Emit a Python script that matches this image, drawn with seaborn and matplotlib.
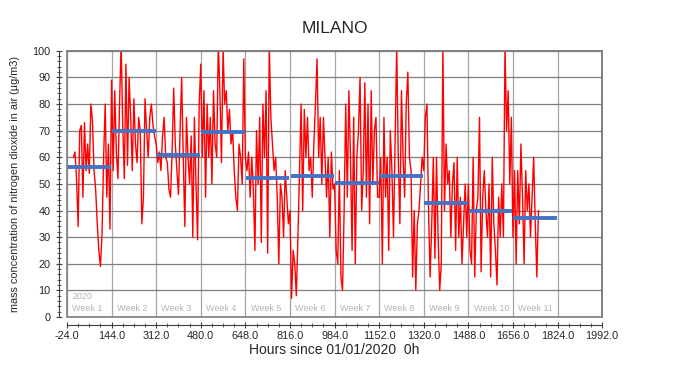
import matplotlib
matplotlib.use('Agg')
import matplotlib.pyplot as plt
import matplotlib.ticker as mticker
from matplotlib.patches import Rectangle
import numpy as np
import pandas as pd
import seaborn as sns

# NO2 readings (µg/m3), one value every 6 hours
week1 = [60, 62, 52, 34, 70, 72, 45, 73, 55, 65, 54, 80, 74, 55, 48, 35,
         25, 19, 31, 60, 80, 45, 65, 33]
week2 = [89, 55, 85, 62, 52, 80, 103, 72, 52, 95, 57, 90, 75, 55, 82, 65,
         58, 75, 70, 35, 45, 82, 70, 60, 75, 80, 72, 68]
week3 = [65, 58, 62, 55, 68, 75, 60, 58, 48, 45, 62, 86, 65, 55, 46, 70,
         90, 60, 34, 75, 60, 50, 68, 30, 75, 50, 29, 80]
week4 = [95, 60, 85, 45, 80, 60, 75, 50, 85, 65, 60, 103, 85, 58, 101, 80,
         85, 70, 78, 65, 70, 55, 45, 40, 65, 60, 50, 97]
week5 = [60, 55, 62, 45, 60, 48, 25, 70, 50, 75, 28, 80, 60, 85, 24, 102,
         75, 65, 55, 60, 45, 20, 50, 45, 30, 55, 45, 35]
week6 = [40, 7, 25, 20, 8, 30, 55, 80, 40, 78, 60, 75, 55, 60, 45, 65,
         80, 97, 60, 75, 50, 75, 60, 45, 60, 30, 62, 48]
week7 = [50, 25, 20, 55, 15, 10, 40, 80, 45, 85, 60, 25, 75, 20, 60, 70,
         90, 40, 55, 88, 45, 80, 35, 85, 50, 70, 75, 45]
week8 = [45, 60, 20, 75, 45, 60, 25, 70, 55, 30, 65, 102, 60, 35, 85, 60,
         45, 80, 92, 60, 55, 15, 40, 10, 35, 40, 50, 60]
week9 = [55, 75, 80, 40, 15, 35, 60, 22, 60, 30, 10, 20, 102, 40, 65, 50,
         55, 30, 50, 58, 25, 60, 30, 45, 20, 35, 50, 30]
week10 = [50, 25, 20, 60, 15, 40, 45, 75, 17, 45, 55, 40, 30, 50, 15, 60,
          35, 25, 12, 45, 30, 50, 30, 102, 70, 85, 50, 75]
week11 = [30, 55, 20, 55, 35, 65, 45, 20, 55, 40, 50, 30, 45, 60, 35, 15, 40]

# weekly averages (blue bars)
week_start = [-24, 144, 312, 480, 648, 816, 984, 1152, 1320, 1488, 1656]
week_mean = [56.5, 70, 61, 69.5, 52.1, 52.8, 50.5, 52.9, 43, 40, 37.2]
week_names = ['2020\nWeek 1', 'Week 2', 'Week 3', 'Week 4', 'Week 5', 'Week 6',
              'Week 7', 'Week 8', 'Week 9', 'Week 10', 'Week 11']

no2 = week1 + week2 + week3 + week4 + week5 + week6 + week7 + week8 + week9 + week10 + week11
df = pd.DataFrame({'hour': np.arange(len(no2)) * 6, 'no2': no2})

sns.set_style('white')
plt.rcParams['font.family'] = ['Liberation Sans', 'DejaVu Sans']

fig = plt.figure(figsize=(6.87, 3.88), dpi=100)
ax = fig.add_axes([0.0975, 0.183, 0.779, 0.686])

sns.lineplot(x='hour', y='no2', data=df, color='red', linewidth=1.0, ax=ax, zorder=3)

starts = np.array(week_start)
ax.hlines(week_mean, starts + 2, starts + 166, color='#4472C4', linewidth=2.8, zorder=4)

for s, name in zip(week_start, week_names):
    ax.text(s + 20, 1.5, name, fontsize=6.5, color='#b4b4b4', va='bottom', ha='left',
            linespacing=1.5)

ax.set_xlim(-24, 1992)
ax.set_ylim(0, 100)
ax.set_xticks(np.arange(-24, 1993, 168))
ax.xaxis.set_minor_locator(mticker.MultipleLocator(42, offset=-24))
ax.xaxis.set_major_formatter(mticker.FormatStrFormatter('%.1f'))
ax.set_yticks(np.arange(0, 101, 10))
ax.yaxis.set_minor_locator(mticker.MultipleLocator(2))

ax.grid(axis='y', color='#7f7f7f', linewidth=0.9)
ax.grid(axis='x', color='#a6a6a6', linewidth=0.9)
ax.set_axisbelow(True)

for side in ['top', 'right']:
    ax.spines[side].set_color('#7f7f7f')
    ax.spines[side].set_linewidth(1.2)
for side in ['left', 'bottom']:
    ax.spines[side].set_position(('outward', 6))
    ax.spines[side].set_color('#404040')
    ax.spines[side].set_linewidth(0.8)
ax.add_patch(Rectangle((0, 0), 1, 1, transform=ax.transAxes, fill=False,
                       edgecolor='#7f7f7f', linewidth=1.2, clip_on=False, zorder=5))

ax.tick_params(axis='both', which='major', direction='inout', length=5, width=0.8,
               color='#404040', labelsize=7.8, bottom=True, left=True)
ax.tick_params(axis='both', which='minor', direction='inout', length=3, width=0.6,
               color='#404040', bottom=True, left=True)
ax.tick_params(axis='x', pad=1.5)

ax.set_title('MILANO', fontsize=12.5, pad=13)
ax.set_xlabel('Hours since 01/01/2020  0h', fontsize=10)
ax.set_ylabel('mass concentration of nitrogen dioxide in air (µg/m3)', fontsize=7.8)
ax.xaxis.set_label_coords(0.5, -0.097)
ax.yaxis.set_label_coords(-0.088, 0.5)

fig.savefig('out.png', dpi=100)
